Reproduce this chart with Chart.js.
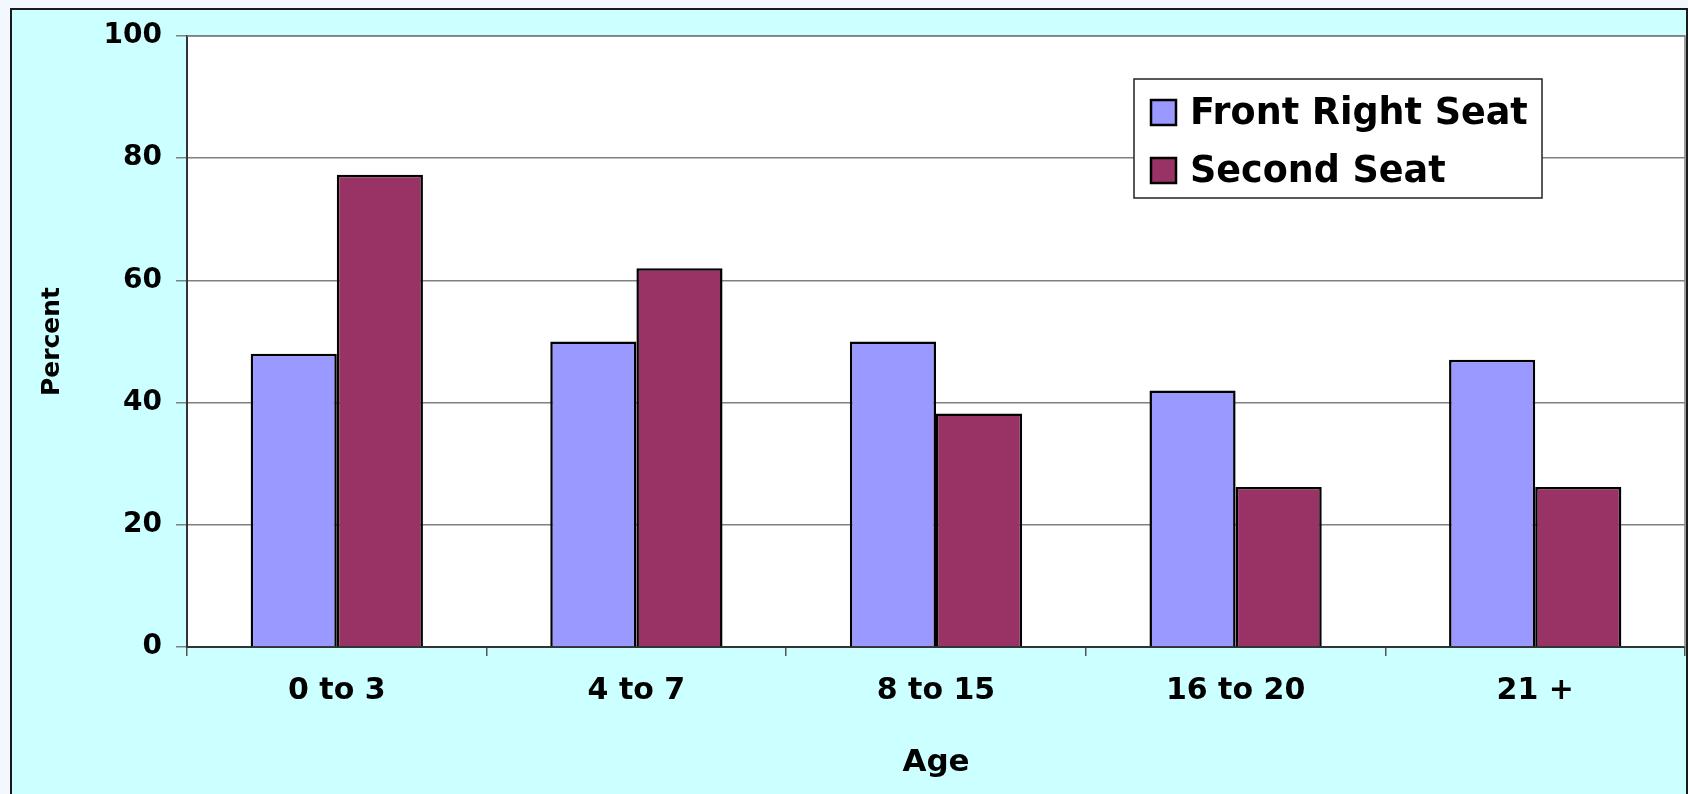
<!DOCTYPE html>
<html>
<head>
<meta charset="utf-8">
<script src="https://cdn.jsdelivr.net/npm/chart.js@4"></script>
<style>
  html, body { margin: 0; padding: 0; background: #f3f8fe; }
  #frame {
    position: absolute; left: 10px; top: 8px; width: 1674px; height: 800px;
    background: #ccffff; border: 2px solid #1a1a1a;
  }
  #wrap { position: absolute; left: 0; top: 0; width: 1688px; height: 794px; }
</style>
</head>
<body>
<div id="frame"></div>
<div id="wrap"><canvas id="seatChart"></canvas></div>
<script>
// data
const ageGroups = ['0 to 3', '4 to 7', '8 to 15', '16 to 20', '21 +'];
const frontRightSeat = [48, 50, 50, 42, 47];
const secondSeat = [77.3, 62, 38.2, 26.2, 26.2];
const yTicks = [0, 20, 40, 60, 80, 100];

const FONT = '"DejaVu Sans", Verdana, sans-serif';

// white plot background + grey frame
const plotBg = {
    id: 'plotBg',
    beforeDraw(chart) {
        const a = chart.chartArea, ctx = chart.ctx;
        ctx.save();
        ctx.fillStyle = '#ffffff';
        ctx.fillRect(a.left, a.top, a.right - a.left, a.bottom - a.top);
        ctx.restore();
    },
    afterDatasetsDraw(chart) {
        const a = chart.chartArea, ctx = chart.ctx;
        ctx.save();
        ctx.strokeStyle = '#808080';
        ctx.lineWidth = 1.5;
        ctx.beginPath();
        ctx.moveTo(a.left, a.top);
        ctx.lineTo(a.right, a.top);
        ctx.lineTo(a.right, a.bottom);
        ctx.stroke();
        ctx.restore();
    }
};

// boxed legend inside the plot, like the original
const boxLegend = {
    id: 'boxLegend',
    afterDraw(chart) {
        const ctx = chart.ctx;
        const x = 1134, y = 79, w = 408, h = 119;
        ctx.save();
        ctx.fillStyle = '#ffffff';
        ctx.fillRect(x, y, w, h);
        ctx.strokeStyle = '#222';
        ctx.lineWidth = 1.5;
        ctx.strokeRect(x, y, w, h);
        ctx.font = 'bold 36.5px ' + FONT;
        ctx.textBaseline = 'middle';
        chart.data.datasets.forEach((ds, i) => {
            const cy = 112 + i * 58;
            ctx.fillStyle = ds.backgroundColor;
            ctx.fillRect(x + 17, cy - 12, 25, 25);
            ctx.lineWidth = 2.5;
            ctx.strokeStyle = '#000';
            ctx.strokeRect(x + 17, cy - 12, 25, 25);
            ctx.fillStyle = '#000';
            ctx.fillText(ds.label, x + 56, cy + 3);
        });
        ctx.restore();
    }
};

const ctx = document.getElementById('seatChart').getContext('2d');
new Chart(ctx, {
    type: 'bar',
    data: {
        labels: ageGroups,
        datasets: [{
            label: 'Front Right Seat',
            data: frontRightSeat,
            backgroundColor: '#9999ff',
            borderColor: '#000',
            borderWidth: 2.5
        }, {
            label: 'Second Seat',
            data: secondSeat,
            backgroundColor: '#993366',
            borderColor: '#000',
            borderWidth: 2.5
        }]
    },
    options: {
        responsive: true,
        maintainAspectRatio: false,
        animation: false,
        layout: { padding: { left: 0, top: 36, right: 3, bottom: 0 } },
        datasets: { bar: { barPercentage: 1, categoryPercentage: 0.575 } },
        plugins: {
            legend: { display: false },
            tooltip: { enabled: false }
        },
        scales: {
            x: {
                afterFit(scale) { scale.height = 147; },
                grid: { offset: true, drawOnChartArea: false, tickLength: 9, color: '#555', lineWidth: 1.5 },
                border: { color: '#333', width: 2 },
                ticks: { color: '#000', padding: 17, font: { family: FONT, size: 30, weight: 'bold' } },
                title: {
                    display: true, text: 'Age', color: '#000',
                    font: { family: FONT, size: 31, weight: 'bold' },
                    padding: { top: 0, bottom: 12 }
                }
            },
            y: {
                min: 0, max: 100,
                afterFit(scale) { scale.width = 187; },
                afterBuildTicks(scale) { scale.ticks = yTicks.map(v => ({ value: v })); },
                grid: { color: '#808080', lineWidth: 1.5, tickLength: 11 },
                border: { color: '#333', width: 2 },
                ticks: { color: '#000', padding: 14, font: { family: FONT, size: 28, weight: 'bold' } },
                title: {
                    display: true, text: 'Percent', color: '#000',
                    font: { family: FONT, size: 25, weight: 'bold' },
                    padding: { top: 37, bottom: 0 }
                }
            }
        }
    },
    plugins: [plotBg, boxLegend]
});
</script>
</body>
</html>
